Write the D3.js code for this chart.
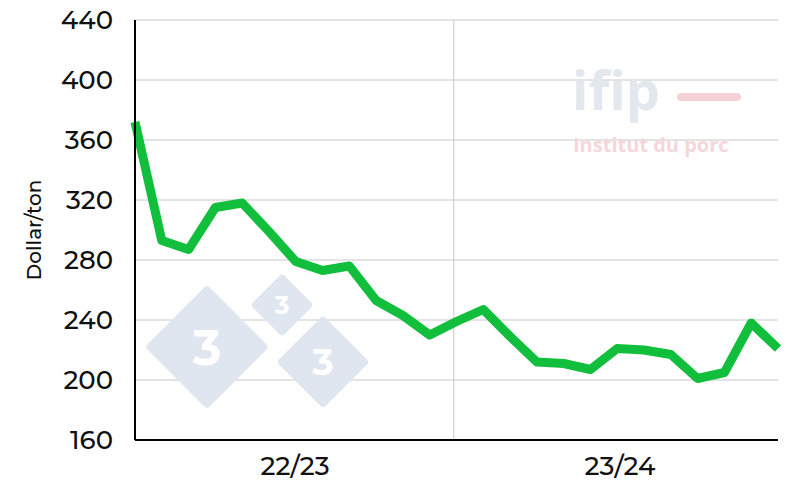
<!DOCTYPE html>
<html><head><meta charset="utf-8">
<script src="https://cdn.jsdelivr.net/npm/d3@7"></script>
<style>body{margin:0;background:#fff;font-family:"Montserrat","Open Sans",sans-serif}</style>
</head><body><svg id="c" width="800" height="502"></svg>
<script>
const months = d3.range(25).map(i => "m" + i);
const values = [372,293,287,315,318,299,279,273,276,253,243,230,239,247,229,212,211,207,221,220,217,201,205,238,221];
const yTicks = [160,200,240,280,320,360,400,440];
const seasons = ["22/23","23/24"];

const svg = d3.select("#c");
const m = {l:135, r:778, t:20, b:440};
const x = d3.scalePoint().domain(months).range([m.l, m.r]);
const y = d3.scaleLinear().domain([160,440]).range([m.b, m.t]);

svg.append("g").selectAll("line").data(yTicks.slice(1)).join("line")
  .attr("x1", m.l).attr("x2", m.r).attr("y1", d=>y(d)).attr("y2", d=>y(d))
  .attr("stroke", "#c8c8c8").attr("stroke-width", 1);
const midX = x(months[11]) + 0.9 * (x(months[12]) - x(months[11]));
svg.append("line").attr("x1", midX).attr("x2", midX).attr("y1", m.t).attr("y2", m.b)
  .attr("stroke", "#c8c8c8");

const wm = svg.append("g").attr("fill", "#dfe6f0");
[[207,347,88],[282,305,45],[323,362,66]].forEach(([cx,cy,s])=>{
  wm.append("rect").attr("x",cx-s/2).attr("y",cy-s/2).attr("width",s).attr("height",s).attr("rx",4)
    .attr("transform",`rotate(45 ${cx} ${cy})`);
  wm.append("text").attr("x",cx).attr("y",cy+s*0.2).attr("text-anchor","middle")
    .attr("fill","#fff").attr("font-weight","bold").attr("font-size",s*0.55).text("3");
});
svg.append("text").attr("x",572).attr("y",110).attr("fill","#e3e7ee").attr("font-size",54)
  .attr("font-weight","bold").attr("font-family","Open Sans").text("ifip");
svg.append("rect").attr("x",677).attr("y",93).attr("width",64).attr("height",8).attr("rx",4).attr("fill","#f6d2d6");
svg.append("text").attr("x",573).attr("y",152).attr("fill","#f6d6da").attr("font-size",20)
  .attr("font-weight","bold").attr("font-family","Open Sans").text("Institut du porc");

svg.append("path").datum(values)
  .attr("d", d3.line().x((d,i)=>x(months[i])).y(d=>y(d)))
  .attr("fill","none").attr("stroke","#12bf3c").attr("stroke-width",9).attr("stroke-linejoin","round");

svg.append("line").attr("x1",m.l).attr("x2",m.l).attr("y1",m.t).attr("y2",m.b).attr("stroke","#000").attr("stroke-width",2);
svg.append("line").attr("x1",m.l).attr("x2",m.r).attr("y1",m.b).attr("y2",m.b).attr("stroke","#000").attr("stroke-width",2);
svg.append("g").selectAll("text").data(yTicks).join("text")
  .attr("x",113).attr("y",d=>y(d)+9).attr("text-anchor","end").attr("font-size",26).attr("font-weight",500).attr("fill","#111").text(d=>d);
svg.append("g").selectAll("text").data(seasons).join("text")
  .attr("x",(d,i)=> i===0 ? 295 : 620).attr("y",475).attr("text-anchor","middle")
  .attr("font-size",26).attr("font-weight",500).attr("fill","#111").text(d=>d);
svg.append("text").attr("transform","translate(41,230) rotate(-90)").attr("text-anchor","middle")
  .attr("font-size",20).attr("font-weight",500).attr("fill","#111").text("Dollar/ton");
</script></body></html>
